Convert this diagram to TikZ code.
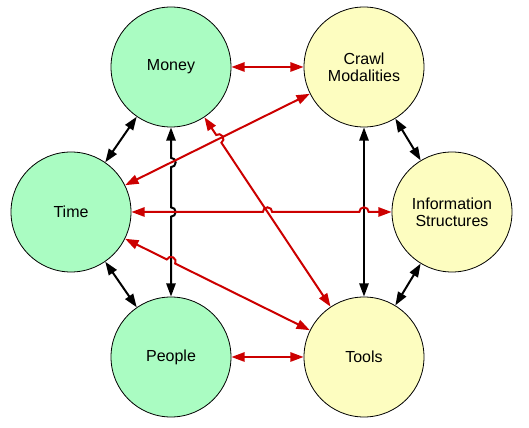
\documentclass[tikz,border=0pt]{standalone}
\usepackage{fontspec}
\setmainfont{Liberation Sans}
\usetikzlibrary{arrows.meta, calc}
\definecolor{factgreen}{HTML}{AAFCC2}
\definecolor{factyellow}{HTML}{FDFDC0}
\definecolor{linkred}{HTML}{CC0000}

\begin{document}
\begin{tikzpicture}[x=0.75pt, y=0.75pt,
  factor/.style={circle, draw=black, line width=0.6pt, minimum size=90pt,
    inner sep=0pt, align=center, font=\fontsize{12}{13}\selectfont},
  human/.style={factor, fill=factgreen},
  system/.style={factor, fill=factyellow},
  link/.style={line width=1.5pt,
    {Triangle[length=10pt,width=7pt]}-{Triangle[length=10pt,width=7pt]}},
  redlink/.style={link, draw=linkred}]
  \useasboundingbox (0,0) rectangle (529,428);

  % the six factors
  \node[human]  (money)  at (171,361) {Money};
  \node[system] (crawl)  at (364,361) {Crawl\\Modalities};
  \node[human]  (time)   at (71,216)  {Time};
  \node[system] (info)   at (452,216) {Information\\Structures};
  \node[human]  (people) at (171,71)  {People};
  \node[system] (tools)  at (364,71)  {Tools};

  % crossing points, where a line hops over another
  \coordinate (x1) at (171,265.5);
  \coordinate (x2) at (171,216);
  \coordinate (x3) at (171,166.5);
  \coordinate (x4) at (267.5,216);
  \coordinate (x5) at (364,216);
  \coordinate (x6) at (218.8,289.15);

  % black links
  \draw[link] (money) -- (time);
  \draw[link] (time) -- (people);
  \draw[link] (crawl) -- (info);
  \draw[link] (info) -- (tools);
  \draw[link] (crawl) -- (tools);
  \draw[link] (money) -- ($(x1)!3.5pt!(money)$)
    arc[start angle=90, end angle=-90, radius=3.5pt]
    -- ($(x2)!3.5pt!(money)$)
    arc[start angle=90, end angle=-90, radius=3.5pt] -- (people);

  % red links
  \draw[redlink] (money) -- (crawl);
  \draw[redlink] (people) -- (tools);
  \draw[redlink] (time) -- (crawl);
  \draw[redlink] (time) -- ($(x4)!3.5pt!(time)$)
    arc[start angle=180, end angle=0, radius=3.5pt]
    -- ($(x5)!3.5pt!(time)$)
    arc[start angle=180, end angle=0, radius=3.5pt] -- (info);
  \draw[redlink] (time) -- ($(x3)!3.5pt!(time)$)
    arc[start angle=153.67, end angle=-26.33, radius=3.5pt] -- (tools);
  \draw[redlink] (money) -- ($(x6)!3.5pt!(money)$)
    arc[start angle=123.64, end angle=-56.36, radius=3.5pt] -- (tools);
\end{tikzpicture}
\end{document}
